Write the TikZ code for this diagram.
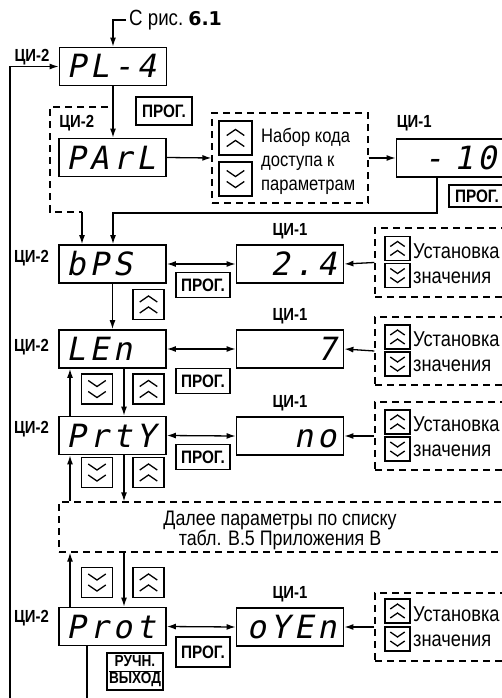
\documentclass[tikz,border=0pt]{standalone}
\usepackage{fontspec}
\setmainfont{Liberation Sans}[FakeStretch=0.85]
\newfontfamily\segfont{DejaVu Sans Mono}[FakeSlant=0.2, LetterSpace=13]
\newfontfamily\widefont{DejaVu Sans}
\usetikzlibrary{arrows.meta, positioning}

\begin{document}
\begin{tikzpicture}[
    x=1pt, y=-1pt,
    disp/.style={draw, line width=1.8pt, minimum width=107pt, minimum height=38pt, text width=93pt, inner xsep=7pt, inner ysep=0pt, text height=23pt, text depth=0pt, font=\segfont\fontsize{32}{32}\selectfont},
    lbl/.style={inner sep=1pt, font=\bfseries\fontsize{17.5}{17.5}\selectfont},
    prog/.style={draw, line width=1.6pt, minimum width=54pt, minimum height=25pt, inner sep=1pt, font=\bfseries\fontsize{18}{18}\selectfont},
    btn/.style={draw, line width=1.5pt, minimum width=31pt, minimum height=30pt, inner sep=0pt},
    sbtn/.style={draw, line width=1.4pt, minimum width=25pt, minimum height=24pt, inner sep=0pt},
    chevup/.style={path picture={
        \foreach \o in {-#1, #1}
          \draw[line width=1.3pt] ([shift={(-1.6*#1, \o-0.55*#1)}]path picture bounding box.center) -- ++(1.6*#1, 1.1*#1) -- ++(1.6*#1, -1.1*#1);}},
    chevdn/.style={path picture={
        \foreach \o in {-#1, #1}
          \draw[line width=1.3pt] ([shift={(-1.6*#1, \o+0.55*#1)}]path picture bounding box.center) -- ++(1.6*#1, -1.1*#1) -- ++(1.6*#1, 1.1*#1);}},
    dbox/.style={draw, line width=1.3pt, dash pattern=on 7pt off 5pt, inner sep=0pt},
    dline/.style={line width=1.3pt, dash pattern=on 7pt off 5pt},
    txt/.style={anchor=west, inner sep=0pt, align=left},
    link/.style={line width=1.3pt, -{Latex[length=9pt,width=6pt]}},
    dlink/.style={line width=1.3pt, {Latex[length=9pt,width=6pt]}-{Latex[length=9pt,width=6pt]}}
]
    \path[use as bounding box, fill=white] (0,0) rectangle (502,698);

    % Entry
    \node[txt, font=\fontsize{22}{22}\selectfont] (from) at (129,20) {С рис.\hspace{5pt}{\widefont\bfseries\fontsize{19}{19}\selectfont 6.1}};

    % Parameter displays (ЦИ-2)
    \node[disp, align=left] (pl4) at (113,66.5) {PL-4};
    \node[disp, align=left] (parl) at (112.5,157.5) {PArL};
    \node[disp, align=left] (bps) at (112.5,264) {bPS};
    \node[disp, align=left] (len) at (112.5,349) {LEn};
    \node[disp, align=left] (prty) at (112.5,435.5) {PrtY};
    \node[disp, align=left] (prot) at (112.5,626.5) {Prot};

    \node[lbl, anchor=east] (pl4-lbl) at ([xshift=-8pt,yshift=9pt]pl4.west) {ЦИ-2};
    \node[lbl, anchor=south west] (parl-lbl) at ([yshift=5pt]parl.north west) {ЦИ-2};
    \node[lbl, anchor=east] (bps-lbl) at ([xshift=-8pt,yshift=6pt]bps.west) {ЦИ-2};
    \node[lbl, anchor=east] (len-lbl) at ([xshift=-8pt,yshift=2pt]len.west) {ЦИ-2};
    \node[lbl, anchor=east] (prty-lbl) at ([xshift=-8pt,yshift=6pt]prty.west) {ЦИ-2};
    \node[lbl, anchor=east] (prot-lbl) at ([xshift=-8pt,yshift=8pt]prot.west) {ЦИ-2};

    % Value displays (ЦИ-1)
    \node[disp, align=right] (code) at (450,158) {- 10};
    \node[disp, align=right] (val1) at (290,264) {2.4};
    \node[disp, align=right] (val2) at (290,349) {7};
    \node[disp, align=right] (val3) at (290,436) {no};
    \node[disp, align=right] (val4) at (290,627) {oYEn};

    \node[lbl, anchor=south west] (code-lbl) at ([yshift=6pt]code.north west) {ЦИ-1};
    \node[lbl, anchor=south] (val1-lbl) at ([yshift=4pt]val1.north) {ЦИ-1};
    \node[lbl, anchor=south] (val2-lbl) at ([yshift=4pt]val2.north) {ЦИ-1};
    \node[lbl, anchor=south] (val3-lbl) at ([yshift=4pt]val3.north) {ЦИ-1};
    \node[lbl, anchor=south] (val4-lbl) at ([yshift=4pt]val4.north) {ЦИ-1};

    % Keys
    \node[prog, minimum width=56pt, minimum height=28pt] (prog0) at (164,111) {ПРОГ.};
    \node[prog, minimum width=56pt, minimum height=22pt] (prog-code) at (477,196) {ПРОГ.};
    \node[prog] (prog1) at (203,285) {ПРОГ.};
    \node[prog] (prog2) at (203,381) {ПРОГ.};
    \node[prog] (prog3) at (203,457) {ПРОГ.};
    \node[prog, minimum height=30pt] (prog4) at (203,652) {ПРОГ.};
    \node[prog, anchor=north, inner sep=2pt, font=\bfseries\fontsize{16}{16}\selectfont] (exit) at (135,652)
        {\setlength\arrayrulewidth{1.2pt}\begin{tabular}{@{}c@{}}РУЧН.\\\hline ВЫХОД\end{tabular}};

    \node[btn, chevup=5.5pt] (up1) at (148.5,304.5) {};
    \node[btn, chevdn=5.5pt] (dn2) at (97,389) {};
    \node[btn, chevup=5.5pt] (up2) at (148.5,389) {};
    \node[btn, chevdn=5.5pt] (dn3) at (97,472.5) {};
    \node[btn, chevup=5.5pt] (up3) at (148.5,472.5) {};
    \node[btn, chevdn=5.5pt] (dn4) at (97,582.5) {};
    \node[btn, chevup=5.5pt] (up4) at (148.5,582.5) {};

    % Access code entry
    \node[dbox, minimum width=156pt, minimum height=90pt] (nabor) at (290,158) {};
    \node[btn, minimum width=33pt, minimum height=34pt, chevup=5.5pt] (nabor-up) at (235.5,138) {};
    \node[btn, minimum width=33pt, minimum height=34pt, chevdn=5.5pt] (nabor-dn) at (235.5,179) {};
    \node[txt, font=\fontsize{19.5}{24}\selectfont] (nabor-txt) at (261,161) {Набор кода\\доступа к\\параметрам};

    % Value setting
    \node[dbox, minimum width=140pt, minimum height=69pt] (set1) at (445,262.5) {};
    \node[sbtn, chevup=4.5pt] (set1-up) at (397.5,248.5) {};
    \node[sbtn, chevdn=4.5pt] (set1-dn) at (397.5,275.5) {};
    \node[txt, font=\fontsize{21.5}{25}\selectfont] (set1-txt) at (413,264) {Установка\\значения};

    \node[dbox, minimum width=140pt, minimum height=68pt] (set2) at (445,351) {};
    \node[sbtn, chevup=4.5pt] (set2-up) at (397.5,337) {};
    \node[sbtn, chevdn=4.5pt] (set2-dn) at (397.5,364) {};
    \node[txt, font=\fontsize{21.5}{25}\selectfont] (set2-txt) at (413,352) {Установка\\значения};

    \node[dbox, minimum width=140pt, minimum height=68pt] (set3) at (445,436) {};
    \node[sbtn, chevup=4.5pt] (set3-up) at (397.5,422) {};
    \node[sbtn, chevdn=4.5pt] (set3-dn) at (397.5,449) {};
    \node[txt, font=\fontsize{21.5}{25}\selectfont] (set3-txt) at (413,437) {Установка\\значения};

    \node[dbox, minimum width=140pt, minimum height=68pt] (set4) at (445,627) {};
    \node[sbtn, chevup=4.5pt] (set4-up) at (397.5,611) {};
    \node[sbtn, chevdn=4.5pt] (set4-dn) at (397.5,639) {};
    \node[txt, font=\fontsize{21.5}{25}\selectfont] (set4-txt) at (413,627) {Установка\\значения};

    % Further parameters
    \node[dbox, minimum width=460pt, minimum height=50pt] (next) at (289,527) {};
    \node[inner sep=0pt, align=center, font=\fontsize{21}{20}\selectfont] (next-txt) at (280,530)
        {Далее параметры по списку\\табл. В.5 Приложения В};

    % Arrows
    \coordinate (skip) at (108,107);
    \coordinate (skipend) at (82,212);
    \coordinate (back) at (113,213);
    \coordinate (loop) at (10,720);

    \draw[link] ([xshift=-3pt]from.west) -| (pl4.north);
    \draw[link] (pl4.south) -- (pl4.south |- parl.north);
    \draw[dline] (skip) -| ([xshift=-8pt]parl.west) |- (skipend);
    \draw[link] (skipend) -- (skipend |- bps.north);
    \draw[link] (parl.east) -- (nabor.west);
    \draw[link] (nabor.east) -- (code.west);
    \draw[link] ([xshift=-13pt]code.south) |- (back) -- (back |- bps.north);

    \draw[dlink] (bps.east) -- (val1.west);
    \draw[dlink] (len.east) -- (val2.west);
    \draw[dlink] (prty.east) -- (val3.west);
    \draw[dlink] (prot.east) -- (val4.west);
    \draw[link] (set1.west) -- (val1.east);
    \draw[link] (set2.west) -- (val2.east);
    \draw[link] (set3.west) -- (val3.east);
    \draw[link] (set4.west) -- (val4.east);

    \draw[link] (bps.south) -- (len.north);
    \draw[link] ([xshift=11.5pt]len.south) -- ([xshift=11.5pt]prty.north);
    \draw[link] ([xshift=-42.5pt]prty.north) -- ([xshift=-42.5pt]len.south);
    \draw[link] ([xshift=11.5pt]prty.south) -- ([xshift=11.5pt]prty.south |- next.north);
    \draw[link] ([xshift=-42.5pt]prty.south |- next.north) -- ([xshift=-42.5pt]prty.south);
    \draw[link] ([xshift=11.5pt]prot.north |- next.south) -- ([xshift=11.5pt]prot.north);
    \draw[link] ([xshift=-42.5pt]prot.north) -- ([xshift=-42.5pt]prot.north |- next.south);
    \draw[link] ([xshift=-25.5pt]prot.south) |- (loop) |- (pl4.west);
\end{tikzpicture}
\end{document}
